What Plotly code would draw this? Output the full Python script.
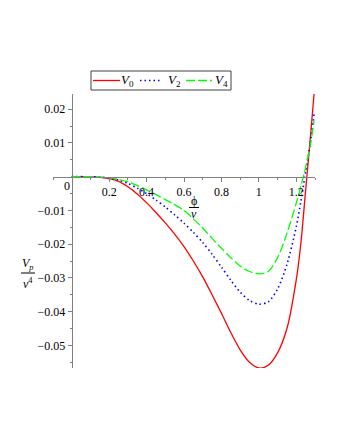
import plotly.graph_objects as go

# data
phi = [0.0, 0.05, 0.1, 0.15, 0.2, 0.25, 0.3, 0.35, 0.4, 0.45, 0.5, 0.55, 0.6, 0.65, 0.7, 0.75, 0.8,
       0.85, 0.9, 0.95, 1.0, 1.05, 1.1, 1.15, 1.2, 1.225, 1.25, 1.275, 1.295]
V0 = [0.0, 0.0, -0.00005, -0.0002, -0.0006, -0.0014, -0.0030, -0.0051, -0.0077, -0.0106, -0.0137,
      -0.0170, -0.0207, -0.0250, -0.0297, -0.0350, -0.0405, -0.0462, -0.0513, -0.0550, -0.0567,
      -0.0559, -0.0522, -0.0450, -0.0305, -0.0195, -0.0040, 0.0115, 0.0245]
V2 = [0.0, 0.0, -0.00003, -0.00013, -0.0004, -0.0010, -0.0020, -0.0034, -0.0050, -0.0069, -0.0090,
      -0.0113, -0.0138, -0.0165, -0.0195, -0.0230, -0.0268, -0.0307, -0.0342, -0.0367, -0.0378,
      -0.0371, -0.0333, -0.0260, -0.0148, -0.0072, 0.0015, 0.0100, 0.0185]
V4 = [0.0, 0.0, -0.00002, -0.0001, -0.0003, -0.0008, -0.0015, -0.0026, -0.0039, -0.0053, -0.0068,
      -0.0083, -0.0100, -0.0125, -0.0152, -0.0183, -0.0212, -0.0240, -0.0265, -0.0281, -0.0288,
      -0.0281, -0.0240, -0.0168, -0.0078, -0.0027, 0.0028, 0.0093, 0.0167]

names = ["V0", "V2", "V4"]
subs = ["0", "2", "4"]
xtick_vals = [0.2, 0.4, 0.6, 0.8, 1.0, 1.2]
xtick_text = ["0.2", "0.4", "0.6", "0.8", "1", "1.2"]
ytick_vals = [-0.05, -0.04, -0.03, -0.02, -0.01, 0.01, 0.02]
ytick_text = ["\u22120.05", "\u22120.04", "\u22120.03", "\u22120.02", "\u22120.01", "0.01", "0.02"]

XR = [-0.1, 1.3]
YR = [-0.0567, 0.0245]
L, R, T, B = 53, 25, 94, 72
W, H = 340, 440
PW, PH = W - L - R, H - T - B

def pxx(px):
    return (px - L) / PW

def pxy(py):
    return (H - B - py) / PH

serif = "Liberation Serif, Times New Roman, serif"

fig = go.Figure()
styles = [("#ff0000", "solid", 1.3), ("#0000ff", "1.5px,3px", 1.6), ("#00ff00", "9px,3px", 1.3)]
for ys, nm, (c, d, w) in zip([V0, V2, V4], names, styles):
    fig.add_trace(go.Scatter(x=phi, y=ys, mode="lines", name=nm, showlegend=False,
                             line=dict(color=c, width=w, dash=d, shape="spline", smoothing=0.8)))

axis_common = dict(showgrid=False, zeroline=False, showline=True, linecolor="#808080", linewidth=1,
                   ticks="outside", ticklen=4, tickcolor="#808080", tickwidth=1, automargin=False,
                   tickfont=dict(family=serif, size=12, color="#000000"))

fig.update_layout(
    width=W, height=H,
    margin=dict(l=L, r=R, t=T, b=B),
    paper_bgcolor="white", plot_bgcolor="white",
    xaxis=dict(range=XR, anchor="free", position=(0 - YR[0]) / (YR[1] - YR[0]),
               tickvals=xtick_vals, ticktext=xtick_text,
               minor=dict(tickvals=[-0.1, 0.1, 0.3, 0.5, 0.7, 0.9, 1.1, 1.3], ticks="outside",
                          ticklen=2, tickcolor="#808080"),
               **axis_common),
    yaxis=dict(range=YR, anchor="free", position=(0 - XR[0]) / (XR[1] - XR[0]),
               tickvals=ytick_vals, ticktext=ytick_text,
               minor=dict(tickvals=[-0.055, -0.045, -0.035, -0.025, -0.015, -0.005, 0.005, 0.015],
                          ticks="outside", ticklen=2, tickcolor="#808080"),
               **axis_common),
    showlegend=False,
)

ann = dict(xref="paper", yref="paper", showarrow=False, xanchor="center", yanchor="middle",
           font=dict(family=serif, size=12, color="#000000"))

# legend box (drawn by hand to match the compact reference legend)
fig.add_shape(type="rect", xref="paper", yref="paper", x0=pxx(91), x1=pxx(231), y0=pxy(71), y1=pxy(90),
              line=dict(color="#404040", width=1), fillcolor="white")
leg_lines = [(93, 120), (140, 162), (186, 212)]
leg_text_x = [127, 174, 221]
for (a, b), tx, sb, (c, d, w) in zip(leg_lines, leg_text_x, subs, styles):
    fig.add_shape(type="line", xref="paper", yref="paper", x0=pxx(a), x1=pxx(b), y0=pxy(80.5), y1=pxy(80.5),
                  line=dict(color=c, width=w, dash=d))
    fig.add_annotation(x=pxx(tx), y=pxy(81), text="<i>V</i><sub>" + sb + "</sub>",
                       xref="paper", yref="paper", showarrow=False, xanchor="center", yanchor="middle",
                       font=dict(family=serif, size=13, color="#000000"))

fig.add_annotation(x=pxx(67), y=pxy(186), text="0", **ann)
fig.add_annotation(x=pxx(194), y=pxy(201), text="\u03d5", **ann)
fig.add_annotation(x=pxx(194), y=pxy(214), text="<i>v</i>", **ann)
fig.add_annotation(x=pxx(28), y=pxy(264), text="<i>V</i><sub><i>p</i></sub>", **ann)
fig.add_annotation(x=pxx(28), y=pxy(283), text="<i>v</i><sup>4</sup>", **ann)
fig.add_shape(type="line", xref="paper", yref="paper", x0=pxx(189), x1=pxx(199), y0=pxy(207.5), y1=pxy(207.5),
              line=dict(color="#000000", width=1))
fig.add_shape(type="line", xref="paper", yref="paper", x0=pxx(21), x1=pxx(35), y0=pxy(273), y1=pxy(273),
              line=dict(color="#000000", width=1))

fig.write_html("out.html", config={"displayModeBar": False},
               post_script="document.body.style.margin='0px';")
